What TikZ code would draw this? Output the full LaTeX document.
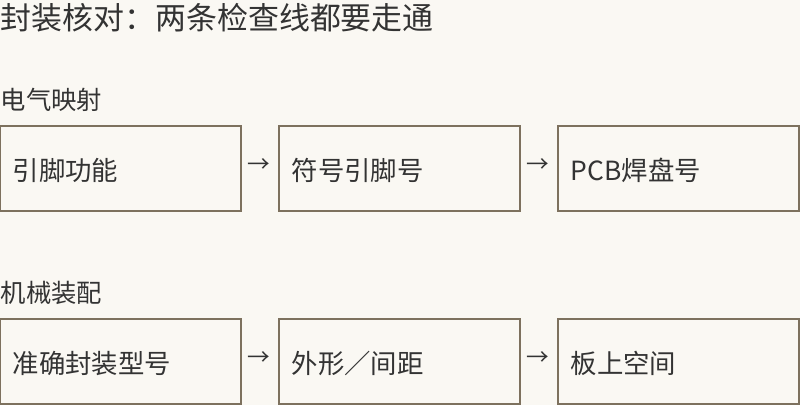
\documentclass[tikz,border=0pt]{standalone}
\usepackage{fontspec}
\setmainfont{Noto Sans CJK SC}
\usetikzlibrary{positioning}
\definecolor{bgcol}{HTML}{FAF8F3}
\definecolor{boxcol}{HTML}{7D715E}
\definecolor{txtcol}{HTML}{333333}
\tikzset{
  box/.style={draw=boxcol, line width=1.5pt, fill=bgcol, minimum width=180.75pt, minimum height=63.75pt, inner sep=0pt},
  boxtext/.style={anchor=west, text=txtcol, font=\fontsize{19.8}{22}\selectfont},
  arrowtext/.style={text=txtcol, font=\fontsize{17}{20}\selectfont},
  heading/.style={anchor=west, text=txtcol, font=\fontsize{19}{22}\selectfont},
}
\begin{document}
\begin{tikzpicture}[x=0.75pt,y=-0.75pt]
\fill[bgcol] (0,0) rectangle (800,405);
\useasboundingbox (0,0) rectangle (800,405);

%Title
\node[heading, font=\fontsize{23.2}{26}\selectfont] (title) at (-4,18) {封装核对：两条检查线都要走通};

%Electrical mapping row
\node[heading] (elec) at (-4,100) {电气映射};
\node[box] (pinfunc) at (120.5,168.5) {};
\node[box] (sympin) at (399.5,168.5) {};
\node[box] (padno) at (678.5,168.5) {};
\node[boxtext] at (8,170.5) {引脚功能};
\node[boxtext] at (287,170.5) {符号引脚号};
\node[boxtext] at (566,170.5) {PCB焊盘号};
\node[arrowtext] (arr_1) at (259,166) {→};
\node[arrowtext] (arr_2) at (538,166) {→};

%Mechanical assembly row
\node[heading] (mech) at (-4,293) {机械装配};
\node[box] (pkgtype) at (120.5,361.5) {};
\node[box] (outline) at (399.5,361.5) {};
\node[box] (space) at (678.5,361.5) {};
\node[boxtext] at (8,363.5) {准确封装型号};
\node[boxtext] at (287,363.5) {外形／间距};
\node[boxtext] at (566,363.5) {板上空间};
\node[arrowtext] (arr_3) at (259,359) {→};
\node[arrowtext] (arr_4) at (538,359) {→};
\end{tikzpicture}
\end{document}
